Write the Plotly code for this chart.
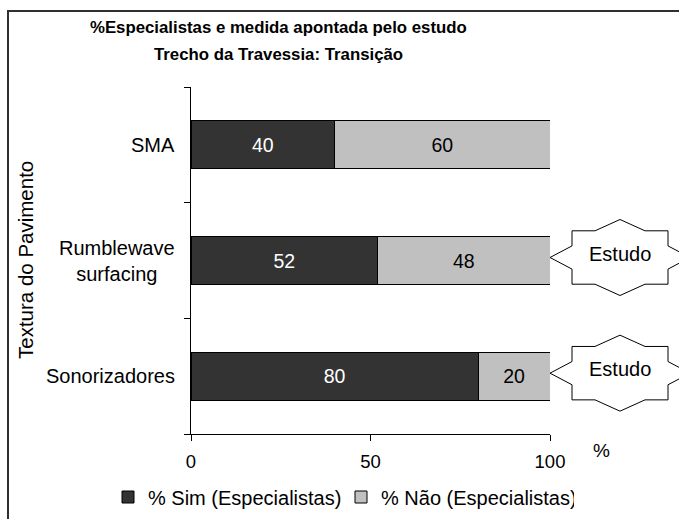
import plotly.graph_objects as go

# Pavement texture options, top to bottom
categories = ["SMA", "Rumblewave surfacing", "Sonorizadores"]
category_labels = ["SMA", "Rumblewave<br>surfacing", "Sonorizadores"]
sim_values = [40, 52, 80]   # % Sim (Especialistas)
nao_values = [60, 48, 20]   # % Não (Especialistas)
estudo_flags = [False, True, True]  # measure pointed out by the study
x_ticks = [0, 50, 100]
X_MAX = 100

FONT = "Arial, 'Liberation Sans', sans-serif"
W, H = 679, 519
L, R, T, B = 191, 129, 87, 85
pw, ph = W - L - R, H - T - B


def px_to_paper_x(px):
    return (px - L) / pw


def px_to_paper_y(py):
    return (H - B - py) / ph


fig = go.Figure()
fig.add_trace(go.Bar(
    y=categories, x=sim_values, orientation="h",
    name="% Sim (Especialistas)",
    marker=dict(color="#333333", line=dict(color="black", width=1)),
    text=[str(v) for v in sim_values], textposition="inside",
    insidetextanchor="middle", textangle=0,
    textfont=dict(color="white", size=19.5, family=FONT),
    constraintext="none", hoverinfo="skip",
))
fig.add_trace(go.Bar(
    y=categories, x=nao_values, orientation="h",
    name="% Não (Especialistas)",
    marker=dict(color="#C0C0C0", line=dict(color="black", width=1)),
    text=[str(v) for v in nao_values], textposition="inside",
    insidetextanchor="middle", textangle=0,
    textfont=dict(color="black", size=19.5, family=FONT),
    constraintext="none", hoverinfo="skip",
))

annotations = []
shapes = []

# Category labels, centred line by line
for cat, lab in zip(categories, category_labels):
    annotations.append(dict(
        x=0, xref="paper", y=cat, yref="y", text=lab, showarrow=False,
        xanchor="right", yanchor="middle", align="center", xshift=-14,
        font=dict(size=20, family=FONT, color="black"),
    ))


# Eight-point star callout, in pixels around its left tip
def star_path(cx, cy, a, b):
    pts = [
        (-a, 0), (-a + 22, 11.6), (-a + 22, 26.7), (-a + 45, 26.7), (0, b),
        (a - 45, 26.7), (a - 22, 26.7), (a - 22, 11.6), (a, 0),
        (a - 22, -11.6), (a - 22, -26.7), (a - 45, -26.7), (0, -b),
        (-a + 45, -26.7), (-a + 22, -26.7), (-a + 22, -11.6),
    ]
    return "M " + " L ".join(f"{cx + x},{cy + y}" for x, y in pts) + " Z"


n_cat = len(categories)
for i, (cat, s, n, flag) in enumerate(zip(categories, sim_values, nao_values, estudo_flags)):
    if not flag:
        continue
    total = s + n
    band_center = (n_cat - 1 - i + 0.5) / n_cat  # category centre on the y axis (paper units)
    shapes.append(dict(
        type="path", xref="paper", yref="paper",
        xsizemode="pixel", ysizemode="pixel",
        xanchor=total / X_MAX, yanchor=band_center,
        path=star_path(70, 3, 70, 38),
        fillcolor="white", line=dict(color="black", width=1), layer="above",
    ))
    annotations.append(dict(
        x=total, xref="x", y=cat, yref="y", text="Estudo", showarrow=False,
        xanchor="center", yanchor="middle", xshift=70, yshift=7,
        font=dict(size=20, family=FONT, color="black"),
    ))

# Axis titles
annotations.append(dict(
    x=px_to_paper_x(25), y=px_to_paper_y(260), xref="paper", yref="paper",
    text="Textura do Pavimento", textangle=-90, showarrow=False,
    xanchor="center", yanchor="middle",
    font=dict(size=20.5, family=FONT, color="black"),
))
annotations.append(dict(
    x=px_to_paper_x(601), y=px_to_paper_y(450), xref="paper", yref="paper",
    text="%", showarrow=False, xanchor="center", yanchor="middle",
    font=dict(size=19, family=FONT, color="black"),
))

# Chart title, two lines
for line, ypx in [("%Especialistas e medida apontada pelo estudo", 28),
                  ("Trecho da Travessia: Transição", 54)]:
    annotations.append(dict(
        x=px_to_paper_x(278), y=px_to_paper_y(ypx), xref="paper", yref="paper",
        text=line, showarrow=False, xanchor="center", yanchor="middle",
        font=dict(size=16.8, family=FONT, color="black", weight="bold"),
    ))

# Outer chart frame
shapes.append(dict(
    type="rect", xref="paper", yref="paper",
    x0=px_to_paper_x(8), x1=px_to_paper_x(W + 20),
    y0=px_to_paper_y(H + 20), y1=px_to_paper_y(11),
    line=dict(color="#303030", width=2), fillcolor="rgba(0,0,0,0)",
    layer="below",
))

fig.update_layout(
    width=W, height=H, autosize=False,
    margin=dict(l=L, r=R, t=T, b=B, pad=0, autoexpand=False),
    paper_bgcolor="white", plot_bgcolor="white",
    barmode="stack", bargap=0.584,
    font=dict(family=FONT, color="black", size=18),
    showlegend=True,
    legend=dict(
        orientation="h", xref="paper", yref="paper",
        x=px_to_paper_x(108), y=px_to_paper_y(497),
        xanchor="left", yanchor="middle", traceorder="normal",
        font=dict(size=20, family=FONT), itemwidth=30,
        entrywidth=188, entrywidthmode="pixels",
        bgcolor="rgba(0,0,0,0)", itemclick=False, itemdoubleclick=False,
    ),
    annotations=annotations,
    shapes=shapes,
)
fig.update_xaxes(
    range=[0, X_MAX], tickvals=x_ticks, ticktext=[str(v) for v in x_ticks],
    showgrid=False, zeroline=False, showline=True, linecolor="black",
    linewidth=1, ticks="outside", ticklen=6, tickcolor="black",
    tickfont=dict(size=18.5, family=FONT), ticklabelstandoff=5,
    fixedrange=True,
)
fig.update_yaxes(
    type="category", categoryorder="array",
    categoryarray=list(reversed(categories)),
    showticklabels=False, showgrid=False, zeroline=False,
    showline=True, linecolor="black", linewidth=1,
    ticks="outside", ticklen=6, tickcolor="black", tickson="boundaries",
    fixedrange=True,
)

fig.write_html("out.html")
